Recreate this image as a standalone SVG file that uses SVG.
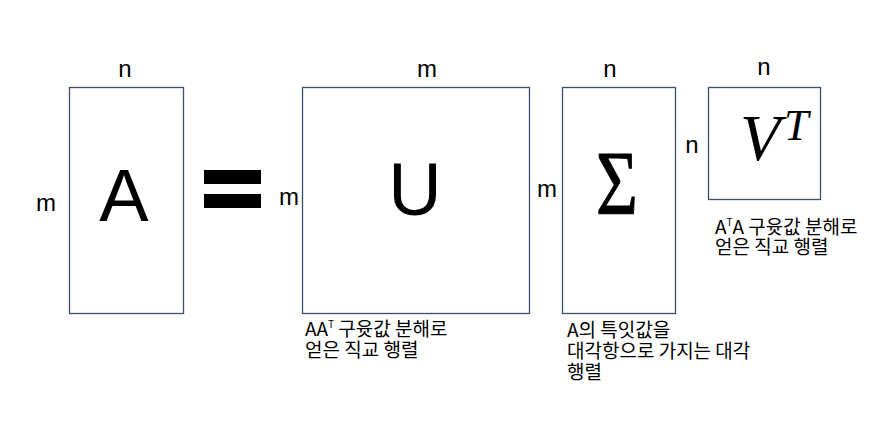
<svg xmlns="http://www.w3.org/2000/svg" width="892" height="427" viewBox="0 0 892 427">
<style>
.box{fill:#ffffff;stroke:#3b4e6b;stroke-width:1.3}
.dim{font-family:"Liberation Sans",Arial,sans-serif;font-size:24px;fill:#000;text-anchor:middle}
.big{font-family:"Liberation Sans",Arial,sans-serif;font-size:74px;fill:#000;text-anchor:middle}
.math{font-family:"Liberation Serif","Times New Roman",serif;fill:#000}
.note{font-family:"Noto Sans CJK KR","Malgun Gothic",sans-serif;font-size:19px;fill:#000}
.sup{font-size:10px}
</style>
<rect width="892" height="427" fill="#ffffff"/>
<g id="node-A">
<rect class="box" x="69.5" y="87.5" width="114" height="226"/>
<text class="big" x="124" y="221" font-size="72">A</text>
<text class="dim" x="125" y="77">n</text>
<text class="dim" x="46" y="211">m</text>
</g>
<g id="equals">
<rect x="204" y="170" width="57" height="14" fill="#000"/>
<rect x="204" y="194" width="57" height="14" fill="#000"/>
</g>
<g id="node-U">
<rect class="box" x="302.5" y="87.5" width="227" height="226"/>
<text class="big" x="415" y="215">U</text>
<text class="dim" x="427" y="77">m</text>
<text class="dim" x="289" y="205">m</text>
<text class="note" x="305" y="336">AA<tspan class="sup" dy="-8">T</tspan><tspan dy="8"> 구윳값 분해로</tspan></text>
<text class="note" x="305" y="357">얻은 직교 행렬</text>
</g>
<g id="node-Sigma">
<rect class="box" x="562.5" y="87.5" width="113" height="226"/>
<text class="math" text-anchor="middle" font-size="72" stroke="#000" stroke-width="0.8" transform="translate(617,214) scale(1,1.25)">Σ</text>
<text class="dim" x="610" y="77">n</text>
<text class="dim" x="547" y="197">m</text>
<text class="note" x="567" y="337">A의 특잇값을</text>
<text class="note" x="567" y="358">대각항으로 가지는 대각</text>
<text class="note" x="567" y="379">행렬</text>
</g>
<g id="node-VT">
<rect class="box" x="708.5" y="87.5" width="112" height="112"/>
<text class="math" font-style="italic" font-size="66" x="740" y="160">V</text>
<text class="math" font-style="italic" font-size="44" x="784" y="140">T</text>
<text class="dim" x="764" y="75">n</text>
<text class="dim" x="692" y="153">n</text>
<text class="note" x="715" y="234">A<tspan class="sup" dy="-8">T</tspan><tspan dy="8">A 구윳값 분해로</tspan></text>
<text class="note" x="715" y="254">얻은 직교 행렬</text>
</g>
<g id="connectors"></g>
</svg>
